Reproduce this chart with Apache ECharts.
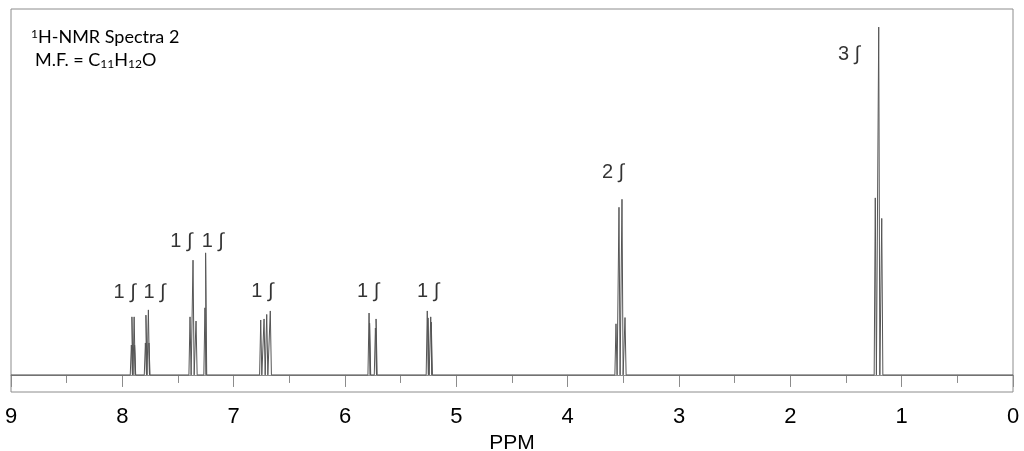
<!DOCTYPE html>
<html>
<head>
    <meta charset="UTF-8">
    <title>1H-NMR Spectra 2</title>
    <script src="https://cdn.jsdelivr.net/npm/echarts@6.0.0/dist/echarts.min.js"></script>
    <style>
        html, body { margin: 0; padding: 0; background: #fff; }
        #nmrChart { width: 1024px; height: 451px; }
    </style>
</head>
<body>
    <div id="nmrChart"></div>

    <script>
        // 谱线位置 (ppm) 与强度 (最高峰 = 100)
        const peakPpm = [
            7.919, 7.914, 7.894, 7.890,
            7.793, 7.788, 7.766, 7.761,
            7.392, 7.365, 7.338,
            7.258, 7.252,
            6.757, 6.727, 6.703, 6.671,
            5.784, 5.779, 5.727, 5.721,
            5.261, 5.254, 5.230, 5.225,
            3.566, 3.539, 3.512, 3.485,
            1.237, 1.206, 1.179
        ];
        const peakHeight = [
            8.6, 16.7, 16.7, 8.6,
            9.2, 17.2, 18.7, 9.2,
            16.7, 33.0, 15.5,
            19.3, 35.1,
            15.8, 16.1, 17.4, 18.4,
            17.8, 14.9, 13.5, 16.1,
            18.4, 16.4, 16.7, 15.2,
            14.7, 48.2, 50.5, 16.5,
            50.9, 100, 45.0
        ];

        // 积分标注
        const labelText = ['1 ∫', '1 ∫', '1 ∫', '1 ∫', '1 ∫', '1 ∫', '1 ∫', '2 ∫', '3 ∫'];
        const labelPpm = [7.980, 7.711, 7.470, 7.188, 6.743, 5.793, 5.254, 3.593, 1.473];
        const labelHeight = [23.6, 23.6, 38.4, 38.4, 24.1, 24.1, 24.1, 58.2, 92.2];

        const lineHalfWidth = 0.01;

        // 构建谱线: 基线 + 每条谱线一个尖峰
        const spectrum = [[9, 0]];
        peakPpm.forEach((p, i) => {
            spectrum.push([p + lineHalfWidth, 0]);
            spectrum.push([p, peakHeight[i]]);
            spectrum.push([p - lineHalfWidth, 0]);
        });
        spectrum.push([0, 0]);

        const labelData = labelPpm.map((p, i) => ({
            value: [p, labelHeight[i]],
            label: { formatter: labelText[i] }
        }));

        const chart = echarts.init(document.getElementById('nmrChart'));

        const option = {
            animation: false,
            grid: {
                left: 11,
                right: 11,
                top: 9,
                bottom: 59,
                outerBoundsMode: 'none',
                containLabel: false,
                show: true,
                borderColor: '#8c8c8c',
                borderWidth: 1
            },
            xAxis: {
                type: 'value',
                inverse: true,
                min: 0,
                max: 9,
                interval: 1,
                name: 'PPM',
                nameLocation: 'middle',
                nameGap: 34,
                nameTextStyle: {
                    fontFamily: 'Liberation Sans',
                    fontSize: 21,
                    color: '#000'
                },
                axisLine: { show: true, lineStyle: { color: '#8c8c8c', width: 1 } },
                axisTick: { show: true, inside: false, length: 12, lineStyle: { color: '#8c8c8c' } },
                minorTick: { show: true, splitNumber: 2, length: 8, lineStyle: { color: '#8c8c8c' } },
                splitLine: { show: false },
                axisLabel: {
                    margin: 14,
                    fontFamily: 'Liberation Sans',
                    fontSize: 22,
                    color: '#000'
                }
            },
            yAxis: {
                type: 'value',
                min: -4.9,
                max: 105.2,
                show: false
            },
            graphic: [{
                type: 'text',
                left: 31,
                top: 28,
                style: {
                    text: '{sup|1}{n|H-NMR Spectra 2}',
                    rich: {
                        sup: { fontFamily: 'Lato', fontSize: 12, fill: '#000', verticalAlign: 'top', padding: [0, 0, 7, 0] },
                        n: { fontFamily: 'Lato', fontSize: 18, fill: '#000' }
                    }
                }
            }, {
                type: 'text',
                left: 35,
                top: 51,
                style: {
                    text: '{n|M.F. = C}{sub|11}{n|H}{sub|12}{n|O}',
                    rich: {
                        n: { fontFamily: 'Lato', fontSize: 18, fill: '#000' },
                        sub: { fontFamily: 'Lato', fontSize: 12, fill: '#000', padding: [9, 0, 0, 0] }
                    }
                }
            }],
            series: [{
                name: 'spectrum',
                type: 'line',
                data: spectrum,
                showSymbol: false,
                symbol: 'none',
                lineStyle: { color: '#555', width: 1 },
                silent: true
            }, {
                name: 'integrals',
                type: 'scatter',
                data: labelData,
                symbolSize: 1,
                itemStyle: { color: 'transparent' },
                label: {
                    show: true,
                    position: 'inside',
                    fontFamily: 'Liberation Sans',
                    fontSize: 20,
                    color: '#000'
                },
                silent: true
            }]
        };

        chart.setOption(option);
    </script>
</body>
</html>
